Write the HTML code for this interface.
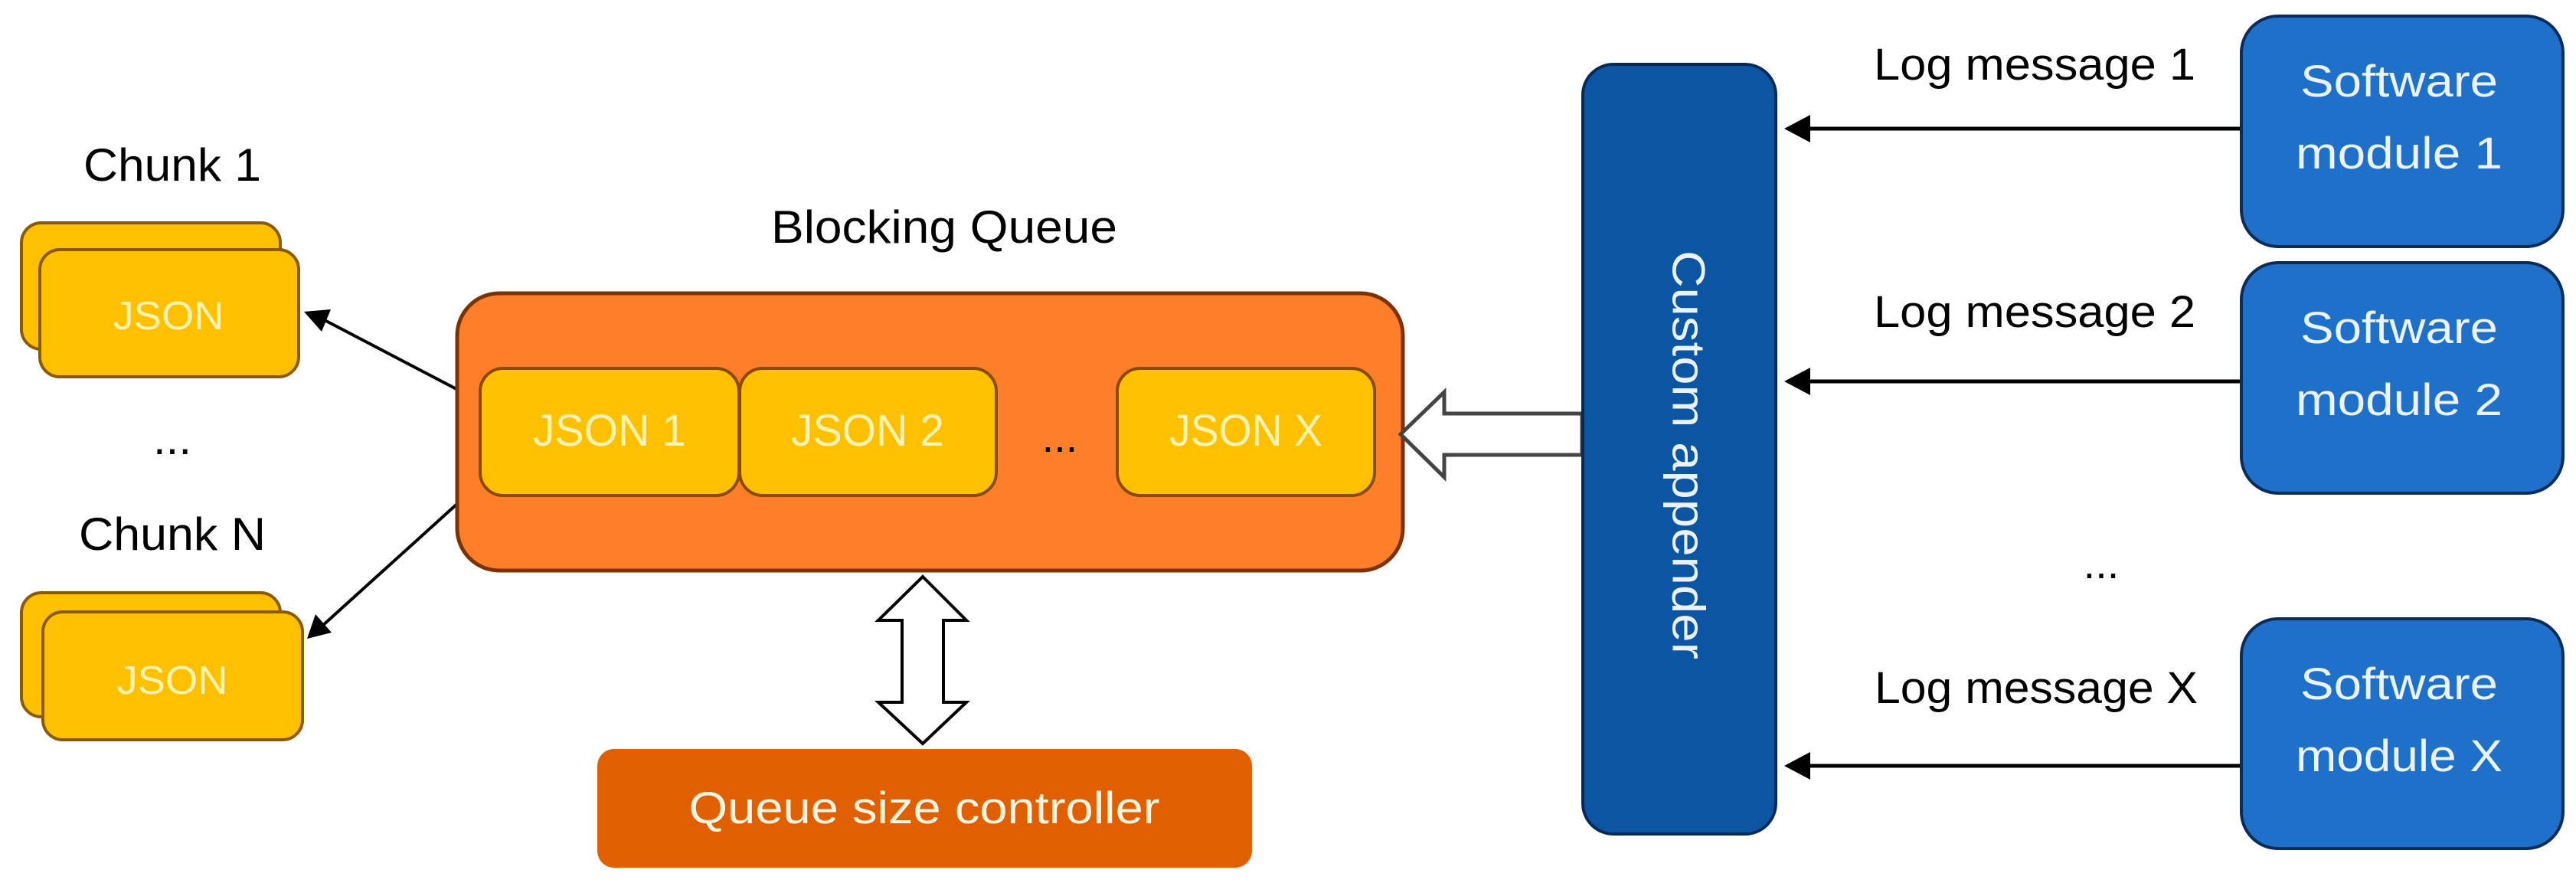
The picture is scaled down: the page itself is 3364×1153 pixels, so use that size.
<!DOCTYPE html>
<html><head><meta charset="utf-8"><style>
html,body{margin:0;padding:0;background:#fff;}
svg{display:block;}
text{font-family:"Liberation Sans",sans-serif;}
</style></head><body>
<svg width="3364" height="1153" viewBox="0 0 3364 1153" xmlns="http://www.w3.org/2000/svg">
<defs>
<marker id="ah" markerWidth="10" markerHeight="10" refX="9" refY="5" orient="auto" markerUnits="userSpaceOnUse" viewBox="0 0 10 10">
</marker>
</defs>
<rect width="3364" height="1153" fill="#fff"/>

<!-- Chunk labels -->
<text x="225" y="236" font-size="60" text-anchor="middle" fill="#000" textLength="232" lengthAdjust="spacingAndGlyphs">Chunk 1</text>
<text x="225" y="593" font-size="60" text-anchor="middle" fill="#000">...</text>
<text x="225" y="718" font-size="60" text-anchor="middle" fill="#000" textLength="244" lengthAdjust="spacingAndGlyphs">Chunk N</text>

<!-- Chunk 1 stack -->
<rect x="28" y="291" width="338" height="165" rx="26" fill="#ffc000" stroke="#8a5a00" stroke-width="4"/>
<rect x="52" y="326" width="338" height="166" rx="26" fill="#ffc000" stroke="#8a5a00" stroke-width="4"/>
<text x="220" y="430" font-size="52" text-anchor="middle" fill="#fff3b0" textLength="145" lengthAdjust="spacingAndGlyphs">JSON</text>
<!-- Chunk N stack -->
<rect x="28" y="774" width="338" height="162" rx="26" fill="#ffc000" stroke="#8a5a00" stroke-width="4"/>
<rect x="56" y="799" width="339" height="167" rx="26" fill="#ffc000" stroke="#8a5a00" stroke-width="4"/>
<text x="225" y="906" font-size="52" text-anchor="middle" fill="#fff3b0" textLength="145" lengthAdjust="spacingAndGlyphs">JSON</text>

<!-- arrows to chunks -->
<line x1="598" y1="509" x2="420" y2="416" stroke="#000" stroke-width="4"/>
<polygon points="397,407 432,404 420,433" fill="#000"/>
<line x1="598" y1="657" x2="420" y2="818" stroke="#000" stroke-width="4"/>
<polygon points="401,834 412,802 433,826" fill="#000"/>

<!-- Blocking Queue -->
<text x="1233" y="317" font-size="60" text-anchor="middle" fill="#000" textLength="452" lengthAdjust="spacingAndGlyphs">Blocking Queue</text>
<rect x="597" y="383" width="1235" height="362" rx="55" fill="#fd7f2a" stroke="#7a3300" stroke-width="5"/>
<rect x="627" y="481" width="338" height="166" rx="30" fill="#ffc000" stroke="#8a4a00" stroke-width="4"/>
<rect x="966" y="481" width="335" height="166" rx="30" fill="#ffc000" stroke="#8a4a00" stroke-width="4"/>
<rect x="1459" y="481" width="336" height="166" rx="30" fill="#ffc000" stroke="#8a4a00" stroke-width="4"/>
<text x="796" y="582" font-size="58" text-anchor="middle" fill="#fff3b0" textLength="200" lengthAdjust="spacingAndGlyphs">JSON 1</text>
<text x="1133" y="582" font-size="58" text-anchor="middle" fill="#fff3b0" textLength="200" lengthAdjust="spacingAndGlyphs">JSON 2</text>
<text x="1627" y="582" font-size="58" text-anchor="middle" fill="#fff3b0" textLength="200" lengthAdjust="spacingAndGlyphs">JSON X</text>
<text x="1384" y="590" font-size="56" text-anchor="middle" fill="#000">...</text>

<!-- double arrow -->
<polygon points="1205,753 1262,810 1232,810 1232,917 1262,917 1205,971 1147,917 1178,917 1178,810 1147,810" fill="#fff" stroke="#000" stroke-width="4" stroke-linejoin="miter"/>

<!-- Queue size controller -->
<rect x="780" y="978" width="855" height="155" rx="22" fill="#e05f00"/>
<text x="1207" y="1075" font-size="58" text-anchor="middle" fill="#fff4e0" textLength="615" lengthAdjust="spacingAndGlyphs">Queue size controller</text>

<!-- hollow arrow from appender to queue -->
<polygon points="1829,567 1886,512 1886,540 2066,540 2066,594 1886,594 1886,623" fill="#fff" stroke="#444" stroke-width="5"/>

<!-- Custom appender -->
<rect x="2067" y="84" width="252" height="1005" rx="40" fill="#0b55a3" stroke="#062a58" stroke-width="4"/>
<text x="2205" y="594" font-size="60" text-anchor="middle" dominant-baseline="central" fill="#eaf2ff" transform="rotate(90 2205 594)" textLength="534" lengthAdjust="spacingAndGlyphs">Custom appender</text>

<!-- log arrows -->
<line x1="2925" y1="168" x2="2355" y2="168" stroke="#000" stroke-width="5"/>
<polygon points="2330,168 2364,150 2364,186" fill="#000"/>
<line x1="2925" y1="498" x2="2355" y2="498" stroke="#000" stroke-width="5"/>
<polygon points="2330,498 2364,480 2364,516" fill="#000"/>
<line x1="2925" y1="1000" x2="2355" y2="1000" stroke="#000" stroke-width="5"/>
<polygon points="2330,1000 2364,982 2364,1018" fill="#000"/>

<text x="2657" y="104" font-size="58" text-anchor="middle" fill="#000" textLength="420" lengthAdjust="spacingAndGlyphs">Log message 1</text>
<text x="2657" y="427" font-size="58" text-anchor="middle" fill="#000" textLength="420" lengthAdjust="spacingAndGlyphs">Log message 2</text>
<text x="2659" y="918" font-size="58" text-anchor="middle" fill="#000" textLength="422" lengthAdjust="spacingAndGlyphs">Log message X</text>
<text x="2744" y="755" font-size="56" text-anchor="middle" fill="#000">...</text>

<!-- Software modules -->
<rect x="2927" y="21" width="420" height="301" rx="48" fill="#1f70c8" stroke="#0a2c5a" stroke-width="4"/>
<text x="3133" y="126" font-size="58" text-anchor="middle" fill="#eaf3ff" textLength="258" lengthAdjust="spacingAndGlyphs">Software</text>
<text x="3133" y="220" font-size="58" text-anchor="middle" fill="#eaf3ff" textLength="270" lengthAdjust="spacingAndGlyphs">module 1</text>

<rect x="2927" y="343" width="420" height="301" rx="48" fill="#1f70c8" stroke="#0a2c5a" stroke-width="4"/>
<text x="3133" y="448" font-size="58" text-anchor="middle" fill="#eaf3ff" textLength="258" lengthAdjust="spacingAndGlyphs">Software</text>
<text x="3133" y="542" font-size="58" text-anchor="middle" fill="#eaf3ff" textLength="270" lengthAdjust="spacingAndGlyphs">module 2</text>

<rect x="2927" y="808" width="420" height="300" rx="48" fill="#1f70c8" stroke="#0a2c5a" stroke-width="4"/>
<text x="3133" y="913" font-size="58" text-anchor="middle" fill="#eaf3ff" textLength="258" lengthAdjust="spacingAndGlyphs">Software</text>
<text x="3133" y="1007" font-size="58" text-anchor="middle" fill="#eaf3ff" textLength="270" lengthAdjust="spacingAndGlyphs">module X</text>
</svg>
</body></html>
